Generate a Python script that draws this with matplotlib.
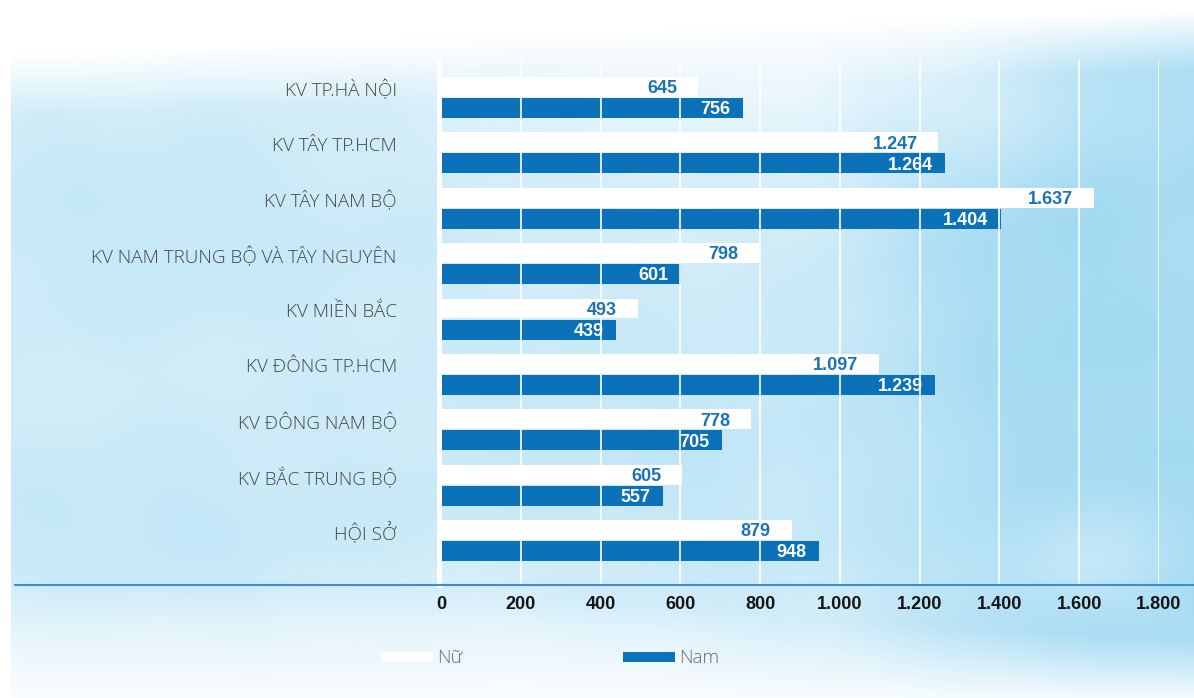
import numpy as np
import matplotlib
matplotlib.use("Agg")
import matplotlib.pyplot as plt
from matplotlib.patches import Rectangle
from matplotlib.lines import Line2D
from matplotlib.transforms import ScaledTranslation

# ---- data ----
regions = [
    "KV TP.HÀ NỘI",
    "KV TÂY TP.HCM",
    "KV TÂY NAM BỘ",
    "KV NAM TRUNG BỘ VÀ TÂY NGUYÊN",
    "KV MIỀN BẮC",
    "KV ĐÔNG TP.HCM",
    "KV ĐÔNG NAM BỘ",
    "KV BẮC TRUNG BỘ",
    "HỘI SỞ",
]
female = [645, 1247, 1637, 798, 493, 1097, 778, 605, 879]
male = [756, 1264, 1404, 601, 439, 1239, 705, 557, 948]
x_ticks = [0, 200, 400, 600, 800, 1000, 1200, 1400, 1600, 1800]
series_names = ["Nữ", "Nam"]

BLUE = "#0b72b9"
LABEL_BLUE = "#1a73b8"
GRAY = "#444444"
NUM_FONT = ["Liberation Sans", "DejaVu Sans"]
TXT_FONT = ["Open Sans", "DejaVu Sans"]
NUM_SIZE = 13


def fmt(v):
    return f"{v:,}".replace(",", ".")


W, H, DPI = 1194, 698, 100
fig = plt.figure(figsize=(W / DPI, H / DPI), dpi=DPI)

# ---- watercolour-style backdrop ----
yy, xx = np.mgrid[0:H, 0:W].astype(float)


def blob(cx, cy, sx, sy):
    return np.exp(-(((xx - cx) / sx) ** 2 + ((yy - cy) / sy) ** 2) / 2)


def smooth(a, b, v):
    s = np.clip((v - a) / (b - a), 0, 1)
    return s * s * (3 - 2 * s)


tone = 0.37 + 0.38 * smooth(780, 1120, xx)
tone += 0.12 * blob(150, 230, 220, 90)
tone += 0.14 * blob(120, 520, 160, 60)
tone += 0.15 * blob(700, 470, 220, 110)
tone += 0.12 * blob(960, 250, 90, 120)
tone -= 0.20 * blob(780, 70, 260, 60)
tone -= 0.25 * blob(1090, 560, 50, 40)
tone -= 0.16 * blob(1000, 110, 70, 50)
tone -= 0.12 * blob(520, 640, 150, 50)
tone += 0.025 * np.sin(xx / 41 + yy / 63) * np.sin(yy / 33 - xx / 77)

top_edge = 55 - 45 * (xx / W)
env = np.clip((yy - top_edge) / 60, 0, 1)
env *= np.clip((yy - 10) / 6, 0, 1)
env *= (xx >= 11)
bottom = np.clip((700 - yy) / (60 + 70 * (1 - xx / W)), 0, 1)
env *= 0.1 + 0.9 * bottom
t = np.clip(tone * env, 0, 1)[..., None]
deep = np.array([0.55, 0.82, 0.94])
img = (1 - t) * np.ones(3) + t * deep

bg = fig.add_axes([0, 0, 1, 1], zorder=-1)
bg.imshow(img, aspect="auto", interpolation="bilinear")
bg.axis("off")

# ---- main chart ----
left_px, right_px, top_px, bottom_px = 441, 1159, 60, 585
ax = fig.add_axes([left_px / W, 1 - bottom_px / H,
                   (right_px - left_px) / W, (bottom_px - top_px) / H])
ax.patch.set_alpha(0)

idx = np.arange(len(regions))
bh, off = 0.36, 0.19
ax.barh(idx - off, female, height=bh, color="white", zorder=2)
ax.barh(idx + off, male, height=bh, color=BLUE, zorder=2)

ax.set_xlim(0, 1800)
ax.set_ylim(8.80, -0.675)
ax.set_xticks(x_ticks)
ax.set_xticklabels([fmt(v) for v in x_ticks])
ax.set_yticks(idx)
ax.set_yticklabels(regions)

for v in x_ticks[1:]:
    ax.axvline(v, color="white", lw=1.2, zorder=3)

for s in ("top", "right", "bottom"):
    ax.spines[s].set_visible(False)
ax.spines["left"].set_color("white")
ax.spines["left"].set_linewidth(3.6)
ax.spines["left"].set_position(("outward", 1.8))

ax.tick_params(axis="both", length=0)
ax.tick_params(axis="x", pad=8)
ax.tick_params(axis="y", pad=30)
for lab in ax.get_xticklabels():
    lab.set_fontfamily(NUM_FONT)
    lab.set_fontweight("bold")
    lab.set_fontsize(NUM_SIZE)
    lab.set_color("#151515")
shift = ScaledTranslation(0, 9 / DPI, fig.dpi_scale_trans)
for lab in ax.get_yticklabels():
    lab.set_fontfamily(TXT_FONT)
    lab.set_fontweight("light")
    lab.set_fontsize(13.6)
    lab.set_color(GRAY)
    lab.set_transform(lab.get_transform() + shift)

for i, (f, m) in enumerate(zip(female, male)):
    ax.annotate(fmt(f), xy=(f, i - off), xytext=(-15, -4.5),
                textcoords="offset points", ha="right", va="baseline",
                fontfamily=NUM_FONT, fontweight="bold", fontsize=NUM_SIZE,
                color=LABEL_BLUE, zorder=5)
    ax.annotate(fmt(m), xy=(m, i + off), xytext=(-9, -4.5),
                textcoords="offset points", ha="right", va="baseline",
                fontfamily=NUM_FONT, fontweight="bold", fontsize=NUM_SIZE,
                color="white", zorder=5)

# baseline rule across the page
fig.add_artist(Line2D([15 / W, 1], [1 - bottom_px / H] * 2,
                      transform=fig.transFigure, color="#3d8ed0", lw=1.5))

# ---- legend ----
def legend_item(x0, color, text):
    fig.add_artist(Rectangle((x0 / W, 1 - 662 / H), 52 / W, 10 / H,
                             transform=fig.transFigure, facecolor=color,
                             edgecolor="none"))
    fig.text((x0 + 56) / W, 1 - 658 / H, text, ha="left", va="center",
             fontfamily=TXT_FONT, fontweight="light", fontsize=13.6,
             color="#6a6a6a")


legend_item(381, "white", series_names[0])
legend_item(623, BLUE, series_names[1])

fig.savefig("out.png", dpi=DPI)
